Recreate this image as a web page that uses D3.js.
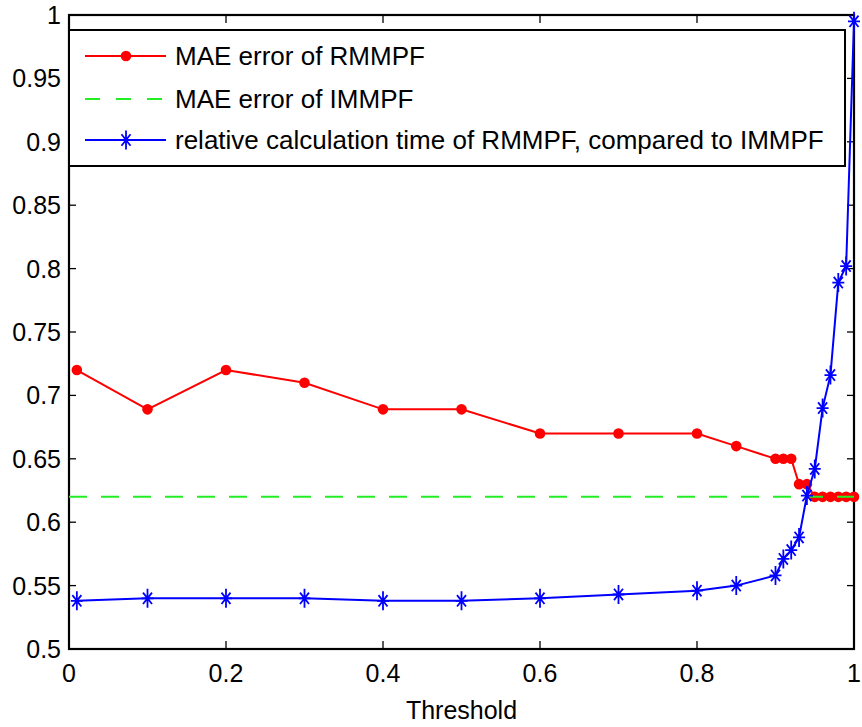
<!DOCTYPE html>
<html>
<head>
<meta charset="utf-8">
<script src="https://cdn.jsdelivr.net/npm/d3@7"></script>
<style>
  html, body { margin: 0; padding: 0; background: #fff; }
  svg { display: block; }
  text { font-family: "Liberation Sans", Arial, sans-serif; fill: #000; }
</style>
</head>
<body>
<svg id="chart" width="862" height="727"></svg>
<script>
// Threshold values on the x axis
const thresholds = [0.01, 0.1, 0.2, 0.3, 0.4, 0.5, 0.6, 0.7, 0.8, 0.85, 0.9, 0.91, 0.92, 0.93, 0.94, 0.95, 0.96, 0.97, 0.98, 0.99, 1.0];
// MAE error of RMMPF at each threshold
const maeRMMPF = [0.72, 0.689, 0.72, 0.71, 0.689, 0.689, 0.67, 0.67, 0.67, 0.66, 0.65, 0.65, 0.65, 0.63, 0.63, 0.62, 0.62, 0.62, 0.62, 0.62, 0.62];
// MAE error of IMMPF (constant reference)
const maeIMMPF = 0.62;
// Relative calculation time of RMMPF compared to IMMPF
const relTime = [0.538, 0.540, 0.540, 0.540, 0.538, 0.538, 0.540, 0.543, 0.546, 0.550, 0.558, 0.571, 0.578, 0.588, 0.621, 0.642, 0.690, 0.716, 0.789, 0.802, 0.995];

const xTicks = [0, 0.2, 0.4, 0.6, 0.8, 1];
const yTicks = [0.5, 0.55, 0.6, 0.65, 0.7, 0.75, 0.8, 0.85, 0.9, 0.95, 1];
const legendLabels = ["MAE error of RMMPF", "MAE error of IMMPF", "relative calculation time of RMMPF, compared to IMMPF"];

const svg = d3.select("#chart");
const plot = { left: 69, right: 854, top: 15, bottom: 649 };

const x = d3.scaleLinear().domain([0, 1]).range([plot.left, plot.right]);
const y = d3.scaleLinear().domain([0.5, 1]).range([plot.bottom, plot.top]);

const fmt = d => String(+d.toFixed(2));
const tickFont = 25, legendFont = 26;

// Tick marks on all four sides, pointing inward
const tickLenX = 8, tickLenY = 7;
const axisG = svg.append("g");
xTicks.forEach(t => {
  axisG.append("line").attr("x1", x(t)).attr("x2", x(t)).attr("y1", plot.bottom).attr("y2", plot.bottom - tickLenX)
    .attr("stroke", "#000").attr("stroke-width", 1.3);
  axisG.append("line").attr("x1", x(t)).attr("x2", x(t)).attr("y1", plot.top).attr("y2", plot.top + tickLenX)
    .attr("stroke", "#000").attr("stroke-width", 1.3);
  axisG.append("text").attr("x", x(t)).attr("y", 682).attr("text-anchor", "middle")
    .attr("font-size", tickFont).text(fmt(t));
});
yTicks.forEach(t => {
  axisG.append("line").attr("x1", plot.left).attr("x2", plot.left + tickLenY).attr("y1", y(t)).attr("y2", y(t))
    .attr("stroke", "#000").attr("stroke-width", 1.3);
  axisG.append("line").attr("x1", plot.right).attr("x2", plot.right - tickLenY).attr("y1", y(t)).attr("y2", y(t))
    .attr("stroke", "#000").attr("stroke-width", 1.3);
  axisG.append("text").attr("x", 61).attr("y", y(t)).attr("dy", "0.36em").attr("text-anchor", "end")
    .attr("font-size", tickFont).text(fmt(t));
});

// Axis box
svg.append("rect").attr("x", plot.left).attr("y", plot.top)
  .attr("width", plot.right - plot.left).attr("height", plot.bottom - plot.top)
  .attr("fill", "none").attr("stroke", "#000").attr("stroke-width", 2.2);

svg.append("text").attr("x", (plot.left + plot.right) / 2).attr("y", 719).attr("text-anchor", "middle")
  .attr("font-size", tickFont).text("Threshold");

const line = d3.line().x(d => x(d[0])).y(d => y(d[1]));

const redData = thresholds.map((t, i) => [t, maeRMMPF[i]]);
const blueData = thresholds.map((t, i) => [t, relTime[i]]);

// Star marker: vertical, horizontal and two diagonal strokes
function starPath(cx, cy, hw, hh) {
  const dx = hw * 0.75, dy = hh * 0.6;
  return `M${cx},${cy - hh}L${cx},${cy + hh}` +
         `M${cx - hw},${cy}L${cx + hw},${cy}` +
         `M${cx - dx},${cy - dy}L${cx + dx},${cy + dy}` +
         `M${cx - dx},${cy + dy}L${cx + dx},${cy - dy}`;
}

// Red series
svg.append("path").datum(redData).attr("d", line).attr("fill", "none")
  .attr("stroke", "#ff0000").attr("stroke-width", 2);
svg.append("g").selectAll("circle").data(redData).join("circle")
  .attr("cx", d => x(d[0])).attr("cy", d => y(d[1])).attr("r", 5.3).attr("fill", "#ff0000");

// Green dashed reference
svg.append("line").attr("x1", x(0)).attr("x2", x(1)).attr("y1", y(maeIMMPF)).attr("y2", y(maeIMMPF))
  .attr("stroke", "#22ee22").attr("stroke-width", 2).attr("stroke-dasharray", "18,14");

// Blue series
svg.append("path").datum(blueData).attr("d", line).attr("fill", "none")
  .attr("stroke", "#0000ff").attr("stroke-width", 2);
svg.append("g").selectAll("path").data(blueData).join("path")
  .attr("d", d => starPath(x(d[0]), y(d[1]), 6, 9.5))
  .attr("fill", "none").attr("stroke", "#0000ff").attr("stroke-width", 1.8);

// Legend
const lg = svg.append("g");
lg.append("rect").attr("x", 69).attr("y", 30).attr("width", 845 - 69).attr("height", 166 - 30)
  .attr("fill", "#fff").attr("stroke", "#000").attr("stroke-width", 2);
const rows = [56, 99, 140];
const baselines = [64.5, 107.5, 148.5];
// entry 1
lg.append("line").attr("x1", 85).attr("x2", 166).attr("y1", rows[0]).attr("y2", rows[0])
  .attr("stroke", "#ff0000").attr("stroke-width", 2);
lg.append("circle").attr("cx", 126).attr("cy", rows[0]).attr("r", 5.3).attr("fill", "#ff0000");
// entry 2
lg.append("line").attr("x1", 85).attr("x2", 166).attr("y1", rows[1]).attr("y2", rows[1])
  .attr("stroke", "#22ee22").attr("stroke-width", 2).attr("stroke-dasharray", "15,16");
// entry 3
lg.append("line").attr("x1", 85).attr("x2", 166).attr("y1", rows[2]).attr("y2", rows[2])
  .attr("stroke", "#0000ff").attr("stroke-width", 2);
lg.append("path").attr("d", starPath(126, rows[2], 6, 9.5))
  .attr("fill", "none").attr("stroke", "#0000ff").attr("stroke-width", 1.8);
legendLabels.forEach((s, i) => {
  lg.append("text").attr("x", 175).attr("y", baselines[i])
    .attr("font-size", legendFont).text(s);
});
</script>
</body>
</html>
